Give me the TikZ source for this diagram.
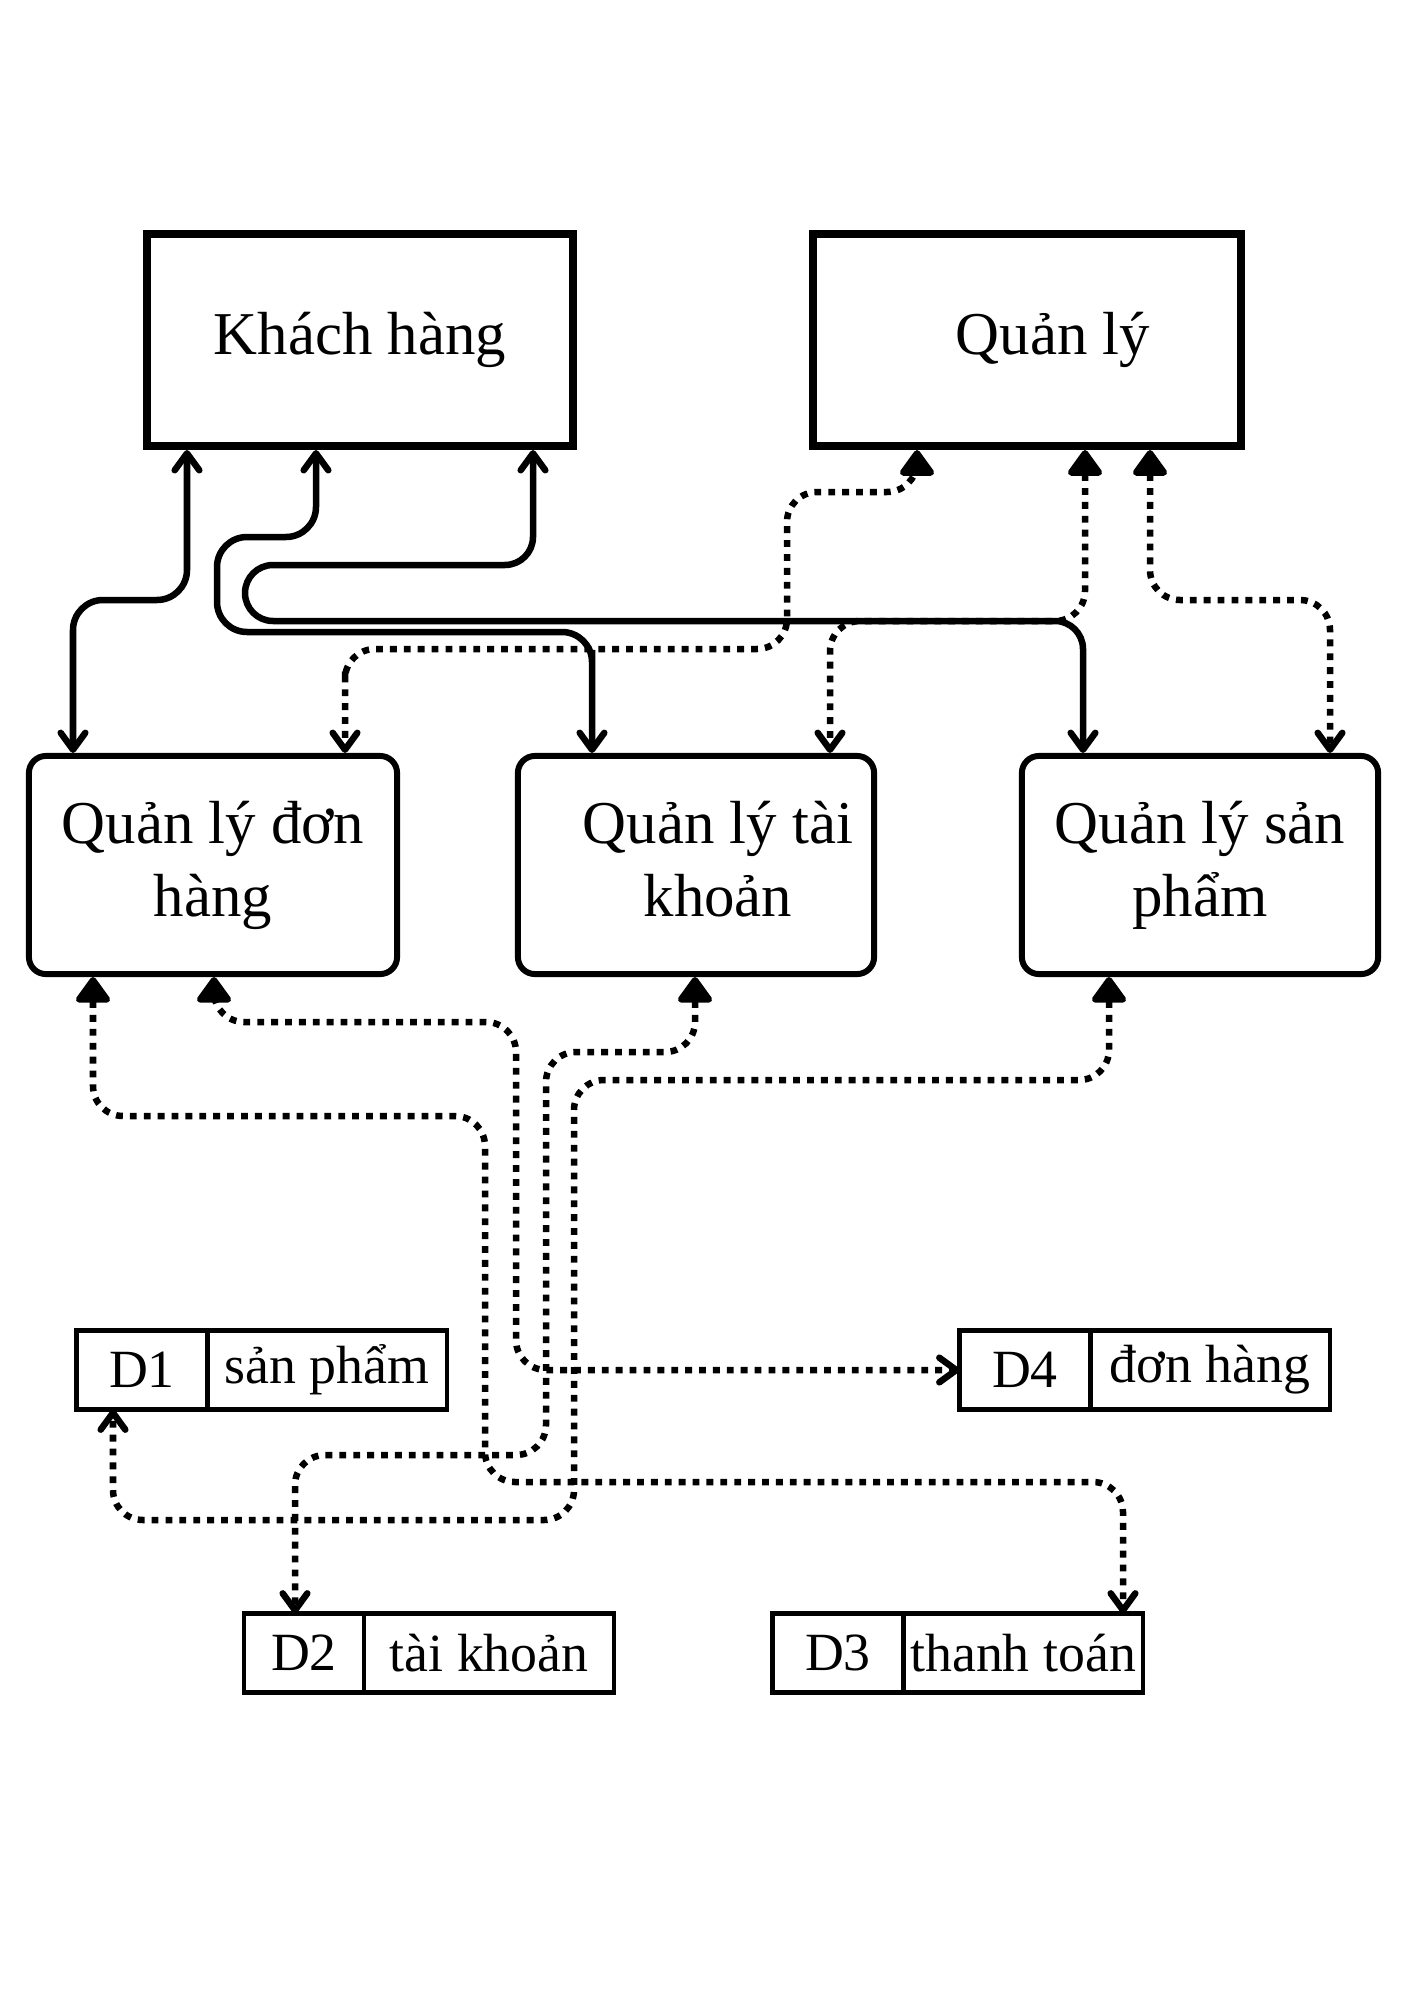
\documentclass[tikz,border=0pt]{standalone}
\usepackage{fontspec}
\setmainfont{Liberation Serif}
\usetikzlibrary{arrows.meta,positioning}

\begin{document}
\begin{tikzpicture}[x=0.01cm, y=-0.01cm,
    actor/.style={draw, line width=2.3pt, minimum width=4.25cm, minimum height=2.12cm,
        font=\fontsize{17.3pt}{20.8pt}\selectfont},
    process/.style={draw, line width=1.7pt, rounded corners=0.17cm, minimum width=3.56cm,
        minimum height=2.18cm, font=\fontsize{17.3pt}{20.8pt}\selectfont},
    storeid/.style={draw, line width=1.2pt, minimum width=1.31cm, minimum height=0.79cm,
        inner sep=0pt, outer sep=0pt, font=\fontsize{15.3pt}{18pt}\selectfont},
    storename/.style={storeid, minimum width=2.39cm},
    curvy/.style={rounded corners=0.3cm},
    flow/.style={line width=1.85pt,
        {Straight Barb[length=4.8pt,width=7pt,round]}-{Straight Barb[length=4.8pt,width=7pt,round]}},
    dataflow/.style={line width=1.85pt, dash pattern=on 1.95pt off 2pt,
        {Triangle[length=8pt,width=11pt,round]}-{Straight Barb[length=4.8pt,width=7pt,round]}}
]
\useasboundingbox (0,0) rectangle (1414,2000);

\node[actor] (kh) at (360,340) {Khách hàng};
\node[actor, minimum width=4.27cm] (ql) at (1027,340) {\hspace*{0.52cm}Quản lý};

\node[process] (qldh) at (213,865) {
    \begin{tabular}{c}
        Quản lý đơn\\
        hàng
    \end{tabular}
};
\node[process, inner xsep=0pt] (qltk) at (696,865) {\hspace*{0.44cm}%
    \begin{tabular}{@{}c@{}}
        Quản lý tài\\
        khoản
    \end{tabular}
};
\node[process] (qlsp) at (1200,865) {
    \begin{tabular}{c}
        Quản lý sản\\
        phẩm
    \end{tabular}
};

\node[storeid] (d1) at (142,1370) {D1};
\node[storename, right=0pt of d1] (d1n) {sản phẩm};
\node[storeid] (d4) at (1025,1370) {D4};
\node[storename, right=0pt of d4] (d4n) {đơn hàng};
\node[storeid, minimum width=1.2cm] (d2) at (304,1653) {D2};
\node[storename, minimum width=2.5cm, right=0pt of d2] (d2n) {tài khoản};
\node[storeid] (d3) at (838,1653) {D3};
\node[storename, right=0pt of d3] (d3n) {thanh toán};

\draw[flow] (187,0 |- kh.south) [curvy] -- (187,600) -- (73,600) -- (73,680) [sharp corners] -- (73,0 |- qldh.north);
\draw[flow] (316,0 |- kh.south) [curvy] -- (316,537) -- (217,537) -- (217,632) -- (592,632) -- (592,680) [sharp corners] -- (592,0 |- qltk.north);
\draw[flow] (533,0 |- kh.south) [rounded corners=0.28cm] -- (533,565) -- (245,565) -- (245,621) -- (1083,621) -- (1083,680) [sharp corners] -- (1083,0 |- qlsp.north);

\draw[dataflow] (917,0 |- ql.south) [curvy] -- (917,492) -- (787,492) -- (787,649) -- (345,649) -- (345,700) [sharp corners] -- (345,0 |- qldh.north);
\draw[dataflow] (1085,0 |- ql.south) [curvy] -- (1085,621) -- (830,621) -- (830,690) [sharp corners] -- (830,0 |- qltk.north);
\draw[dataflow] (1150,0 |- ql.south) [curvy] -- (1150,600) -- (1330,600) -- (1330,680) [sharp corners] -- (1330,0 |- qlsp.north);

\draw[dataflow] (93,0 |- qldh.south) [curvy] -- (93,1116) -- (485,1116) -- (485,1482) -- (1123,1482) -- (1123,1560) [sharp corners] -- (1123,0 |- d3n.north);
\draw[dataflow] (214,0 |- qldh.south) [curvy] -- (214,1022) -- (516,1022) -- (516,1370) -- (700,1370) [sharp corners] -- (d4.west);
\draw[dataflow] (695,0 |- qltk.south) [curvy] -- (695,1052) -- (546,1052) -- (546,1455) -- (295,1455) -- (295,1540) [sharp corners] -- (295,0 |- d2.north);
\draw[dataflow] (1109,0 |- qlsp.south) [curvy] -- (1109,1080) -- (574,1080) -- (574,1520) -- (113,1520) -- (113,1460) [sharp corners] -- (113,0 |- d1.south);
\end{tikzpicture}
\end{document}
